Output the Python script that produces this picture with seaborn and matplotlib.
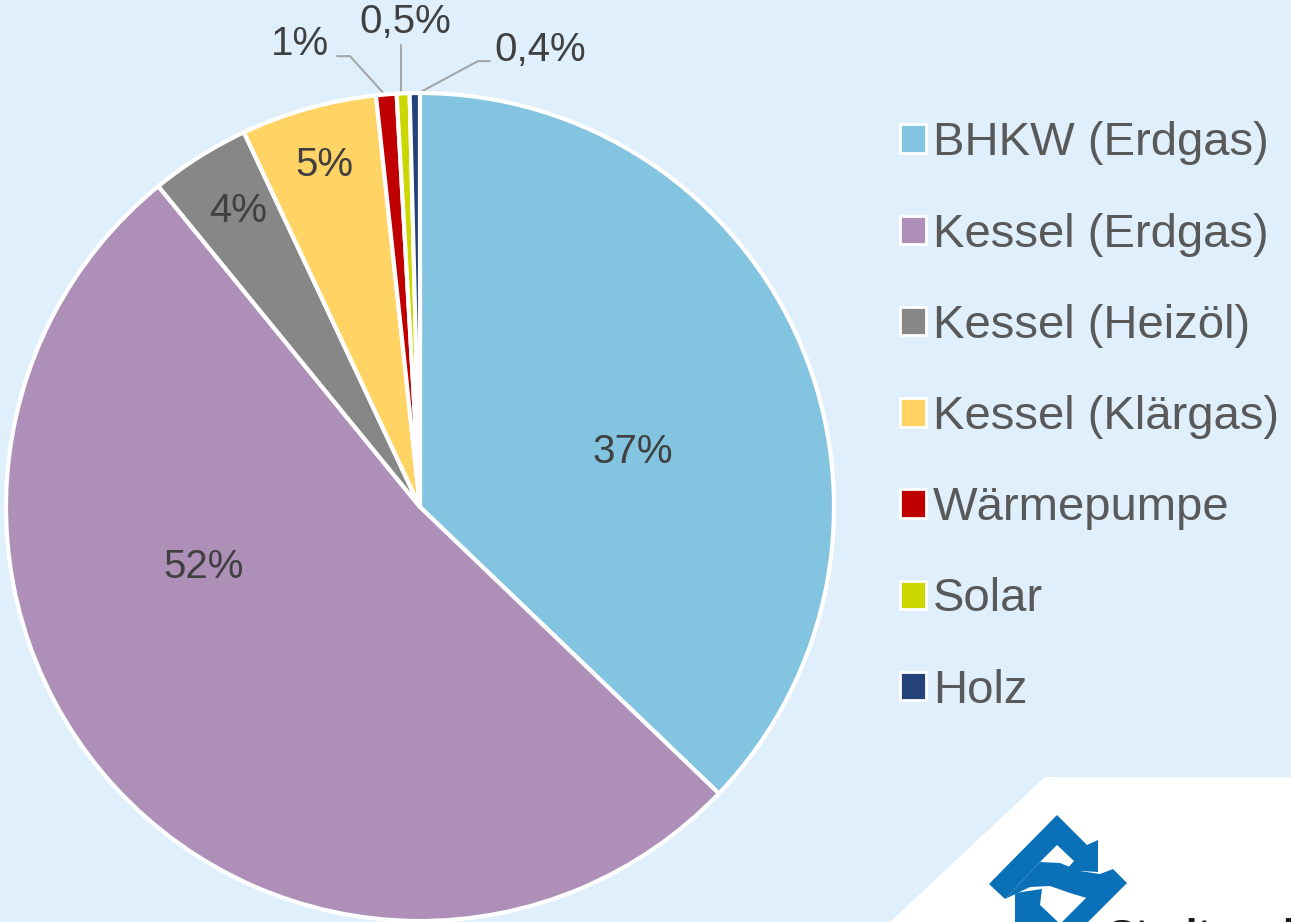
import matplotlib.pyplot as plt
import numpy as np
import seaborn as sns
from matplotlib.patches import Patch, Polygon

# data
categories = [
    "BHKW (Erdgas)",
    "Kessel (Erdgas)",
    "Kessel (Heizöl)",
    "Kessel (Klärgas)",
    "Wärmepumpe",
    "Solar",
    "Holz",
]
shares = [37.2, 52.0, 3.9, 5.3, 0.8, 0.5, 0.4]
share_labels = ["37%", "52%", "4%", "5%", "1%", "0,5%", "0,4%"]

slice_colors = ["#83C4E1", "#AD8FB8", "#878787", "#FFD464", "#C00000", "#CCD600", "#24427A"]
bg = "#DFF0FC"

sns.set_theme(style="white")
plt.rcParams["font.family"] = ["Liberation Sans", "DejaVu Sans"]

W, H = 1291, 922
fig = plt.figure(figsize=(W / 100, H / 100), dpi=100, facecolor=bg)


def px(x, y):
    # pixel position -> figure fraction
    return x / W, 1 - y / H


# pie axes: centre (420, 507), radius 414 px
r = 414
ax = fig.add_axes([(420 - r) / W, (H - 507 - r) / H, 2 * r / W, 2 * r / H])
ax.set_facecolor("none")
wedges, _ = ax.pie(
    shares,
    colors=slice_colors,
    startangle=90,
    counterclock=False,
    radius=1,
    wedgeprops={"edgecolor": "white", "linewidth": 3},
)
ax.set_xlim(-1, 1)
ax.set_ylim(-1, 1)
ax.set_aspect("equal")
ax.axis("off")

# label positions (axes data units)
label_pos = [
    (0.514, 0.133),
    (-0.524, -0.145),
    (-0.440, 0.715),
    (-0.232, 0.826),
    (-0.290, 1.118),
    (-0.036, 1.171),
    (0.290, 1.104),
]
for txt, (lx, ly) in zip(share_labels, label_pos):
    ax.text(lx, ly, txt, ha="center", va="center", fontsize=29, color="#404040", clip_on=False)

# leader lines for the small slices: elbow points, anchor on the wedge edge
elbows = {
    4: [(-0.200, 1.089), (-0.169, 1.089)],
    5: [(-0.046, 1.116), (-0.046, 1.116)],
    6: [(0.169, 1.077), (0.140, 1.077)],
}
for i, pts in elbows.items():
    w = wedges[i]
    mid = np.deg2rad((w.theta1 + w.theta2) / 2)
    ax_, ay_ = np.cos(mid) * 0.995, np.sin(mid) * 0.995
    xs = [pts[0][0], pts[1][0], ax_]
    ys = [pts[0][1], pts[1][1], ay_]
    if i == 5:
        xs[-1] = xs[1]
    ax.plot(xs, ys, color="#A6A6A6", lw=1.5, clip_on=False, zorder=0.5)

# legend
handles = [Patch(facecolor=c, edgecolor="white", linewidth=2) for c in slice_colors]
leg = fig.legend(
    handles,
    categories,
    loc="center left",
    bbox_to_anchor=(900 / W, 1 - 417 / H),
    frameon=False,
    fontsize=34,
    labelcolor="#595959",
    handlelength=0.55,
    handleheight=0.55,
    handletextpad=0.15,
    labelspacing=1.0,
    borderpad=0,
    borderaxespad=0,
)

# white corner panel with logo
fig.patches.append(
    Polygon([px(890, 922), px(1045, 777), px(1291, 777), px(1291, 922)],
            closed=True, transform=fig.transFigure, facecolor="white", edgecolor="none")
)
logo_blue = "#0A70B7"
logo_parts = [
    [(989, 884), (1057, 815), (1087, 845), (1098, 840), (1098, 872), (1066, 870),
     (1074, 861), (1057, 845), (1040, 862), (1005, 899)],
    [(1040, 862), (1060, 863), (1080, 871), (1100, 874), (1113, 869), (1127, 883),
     (1110, 896), (1090, 899), (1070, 893), (1050, 886), (1030, 887), (1005, 899)],
    [(1015, 893), (1042, 889), (1040, 905), (1058, 922), (1015, 922)],
    [(1127, 883), (1100, 884), (1062, 922), (1088, 922)],
]
for part in logo_parts:
    fig.patches.append(
        Polygon([px(x, y) for x, y in part], closed=True, transform=fig.transFigure,
                facecolor=logo_blue, edgecolor="none")
    )
fig.text(1108 / W, 1 - 918 / H, "Stadtwerke", ha="left", va="top",
         fontsize=30, fontweight="bold", color="#1A1A1A")

fig.savefig("out.png", dpi=100, facecolor=bg)
